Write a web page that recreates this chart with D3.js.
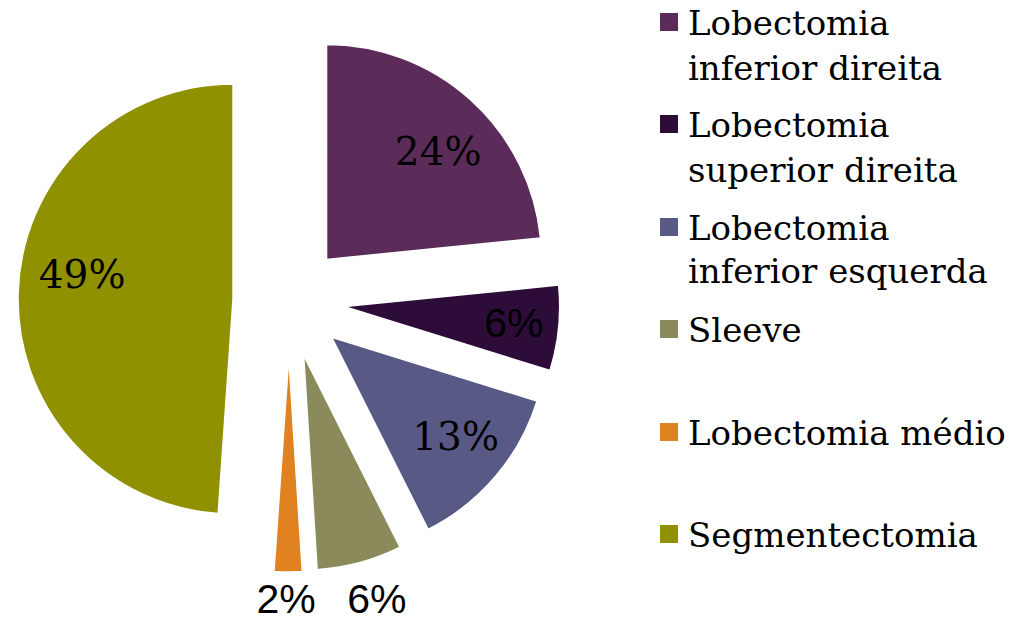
<!DOCTYPE html>
<html><head><meta charset="utf-8">
<script src="https://cdn.jsdelivr.net/npm/d3@7"></script>
<style>body{margin:0;background:#fff}svg{display:block}</style>
</head><body>
<svg id="chart" width="1011" height="625"></svg>
<script>
const categories = ["Lobectomia inferior direita","Lobectomia superior direita","Lobectomia inferior esquerda","Sleeve","Lobectomia médio","Segmentectomia"];
const legendLines = [["Lobectomia","inferior direita"],["Lobectomia","superior direita"],["Lobectomia","inferior esquerda"],["Sleeve"],["Lobectomia médio"],["Segmentectomia"]];
const values = [23.4, 6.4, 12.8, 6.4, 2.1, 48.9];
const labels = ["24%","6%","13%","6%","2%","49%"];
const colors = ["#5B2C5A","#2D0C3A","#585985","#8A8A5B","#DF821F","#8F9100"];

// Layout (label placement style)
const labelOutside = [false,false,false,true,true,false];
const labelSans = [false,true,false,true,true,false];
const labelNudge = [[7,8],[14,1],[5,-2],[8,3],[-2,-8],[5,-19]];

const svg = d3.select("#chart");
const cx = 289, cy = 301, R = 215, explode = 56;
const pie = d3.pie().sort(null).value(d => d);
const arcs = pie(values);
const arc = d3.arc().innerRadius(0).outerRadius(R);
const g = svg.append("g").attr("transform", `translate(${cx},${cy})`);

arcs.forEach((a, i) => {
  const mid = (a.startAngle + a.endAngle) / 2;
  const dx = Math.sin(mid) * explode, dy = -Math.cos(mid) * explode;
  const sg = g.append("g").attr("transform", `translate(${dx},${dy})`);
  sg.append("path").attr("d", arc(a)).attr("fill", colors[i]).attr("stroke", "#fff").attr("stroke-width", 1.5);
  const rr = labelOutside[i] ? 250 : 156;
  sg.append("text")
    .attr("x", Math.sin(mid) * rr + labelNudge[i][0])
    .attr("y", -Math.cos(mid) * rr + labelNudge[i][1])
    .attr("text-anchor", "middle").attr("dominant-baseline", "central")
    .attr("font-family", labelSans[i] ? "Liberation Sans, Arial, sans-serif" : "DejaVu Serif, serif")
    .attr("font-size", labelSans[i] ? 41 : 39)
    .attr("fill", "#000").text(labels[i]);
});

// Legend
const legendBaselines = [[35, 80], [137, 182], [240, 283], [342], [445], [547]];
const lg = svg.append("g");
legendLines.forEach((lines, i) => {
  const b0 = legendBaselines[i][0];
  lg.append("rect").attr("x", 660).attr("y", b0 - 22).attr("width", 18).attr("height", 18).attr("fill", colors[i]);
  lines.forEach((ln, j) => {
    lg.append("text").attr("x", 688).attr("y", legendBaselines[i][j])
      .attr("font-family", "DejaVu Serif, serif").attr("font-size", 34)
      .attr("fill", "#000").text(ln);
  });
});
</script>
</body></html>
